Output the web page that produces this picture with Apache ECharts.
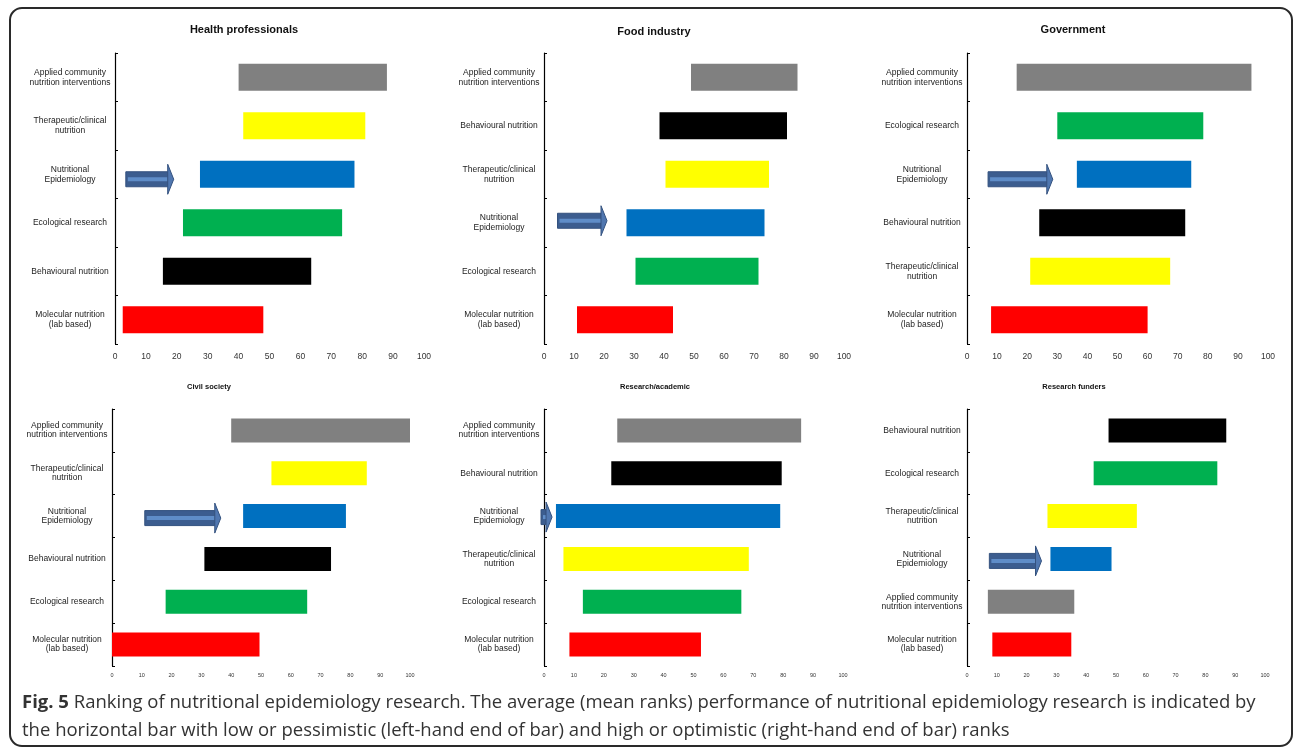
<!DOCTYPE html>
<html>
<head>
<meta charset="utf-8">
<title>Ranking of nutritional epidemiology research</title>
<script src="https://cdn.jsdelivr.net/npm/echarts@6/dist/echarts.min.js"></script>
<style>
  html, body { margin: 0; padding: 0; background: #ffffff; }
  #chart { width: 1295px; height: 748px; }
</style>
</head>
<body>
<div id="chart"></div>
<script>
// ---- data -----------------------------------------------------------------
const APPLIED = 'Applied community\nnutrition interventions';
const THERAP = 'Therapeutic/clinical\nnutrition';
const NUTEPI = 'Nutritional\nEpidemiology';
const ECOL = 'Ecological research';
const BEHAV = 'Behavioural nutrition';
const MOLEC = 'Molecular nutrition\n(lab based)';

const panelTitles = ['Health professionals', 'Food industry', 'Government',
  'Civil society', 'Research/academic', 'Research funders'];

const xTicks = [0, 10, 20, 30, 40, 50, 60, 70, 80, 90, 100];

// rows listed top to bottom; low = pessimistic rank, high = optimistic rank
const healthCats = [APPLIED, THERAP, NUTEPI, ECOL, BEHAV, MOLEC];
const healthLow = [40, 41.5, 27.5, 22, 15.5, 2.5];
const healthHigh = [88, 81, 77.5, 73.5, 63.5, 48];
const healthArrow = [3.5, 19];

const foodCats = [APPLIED, BEHAV, THERAP, NUTEPI, ECOL, MOLEC];
const foodLow = [49, 38.5, 40.5, 27.5, 30.5, 11];
const foodHigh = [84.5, 81, 75, 73.5, 71.5, 43];
const foodArrow = [4.5, 21];

const govCats = [APPLIED, ECOL, NUTEPI, BEHAV, THERAP, MOLEC];
const govLow = [16.5, 30, 36.5, 24, 21, 8];
const govHigh = [94.5, 78.5, 74.5, 72.5, 67.5, 60];
const govArrow = [7, 28.5];

const civilCats = [APPLIED, THERAP, NUTEPI, BEHAV, ECOL, MOLEC];
const civilLow = [40, 53.5, 44, 31, 18, 0];
const civilHigh = [100, 85.5, 78.5, 73.5, 65.5, 49.5];
const civilArrow = [11, 36.5];

const academicCats = [APPLIED, BEHAV, NUTEPI, THERAP, ECOL, MOLEC];
const academicLow = [24.5, 22.5, 4, 6.5, 13, 8.5];
const academicHigh = [86, 79.5, 79, 68.5, 66, 52.5];
const academicArrow = [-1, 2.7];

const fundersCats = [BEHAV, ECOL, THERAP, NUTEPI, APPLIED, MOLEC];
const fundersLow = [47.5, 42.5, 27, 28, 7, 8.5];
const fundersHigh = [87, 84, 57, 48.5, 36, 35];
const fundersArrow = [7.5, 25];

const captionLine1 = 'Ranking of nutritional epidemiology research. The average (mean ranks) performance of nutritional epidemiology research is indicated by';
const captionLine2 = 'the horizontal bar with low or pessimistic (left-hand end of bar) and high or optimistic (right-hand end of bar) ranks';

// ---- styling --------------------------------------------------------------
const colorOf = {};
colorOf[APPLIED] = '#808080';
colorOf[THERAP] = '#FFFF00';
colorOf[NUTEPI] = '#0070C0';
colorOf[ECOL] = '#00B050';
colorOf[BEHAV] = '#000000';
colorOf[MOLEC] = '#FF0000';

const FONT = '"Liberation Sans", Arial, sans-serif';

const panels = [
  { cats: healthCats, low: healthLow, high: healthHigh, arrow: healthArrow,
    grid: { left: 115, top: 53, width: 309, height: 291 }, title: [244, 30], big: true, arrowDy: 5 },
  { cats: foodCats, low: foodLow, high: foodHigh, arrow: foodArrow,
    grid: { left: 544, top: 53, width: 300, height: 291 }, title: [654, 32], big: true, arrowDy: -2 },
  { cats: govCats, low: govLow, high: govHigh, arrow: govArrow,
    grid: { left: 967, top: 53, width: 301, height: 291 }, title: [1073, 30], big: true, arrowDy: 5 },
  { cats: civilCats, low: civilLow, high: civilHigh, arrow: civilArrow,
    grid: { left: 112, top: 409, width: 298, height: 257 }, title: [209, 387], big: false, arrowDy: 2 },
  { cats: academicCats, low: academicLow, high: academicHigh, arrow: academicArrow,
    grid: { left: 544, top: 409, width: 299, height: 257 }, title: [655, 387], big: false, arrowDy: 1 },
  { cats: fundersCats, low: fundersLow, high: fundersHigh, arrow: fundersArrow,
    grid: { left: 967, top: 409, width: 298, height: 257 }, title: [1074, 387], big: false, arrowDy: 2 }
];

// block arrow pointing right, drawn between two x values on one category row
function makeArrowRenderer(dy) {
  return function (params, api) {
    const row = api.value(2);
    const p0 = api.coord([api.value(0), row]);
    const p1 = api.coord([api.value(1), row]);
    const cy = p0[1] + dy;
    const headLen = 6;
    const bodyH = 7.5;
    const headH = 15;
    const xb = p1[0] - headLen;
    return {
      type: 'group',
      children: [
        { type: 'rect', shape: { x: p0[0], y: cy - bodyH, width: xb - p0[0], height: bodyH * 2 },
          style: { fill: '#3C5D8F', stroke: '#34527F', lineWidth: 1 } },
        { type: 'rect', shape: { x: p0[0] + 2, y: cy - 2, width: xb - p0[0], height: 4 },
          style: { fill: '#5F8DC8' } },
        { type: 'polygon', shape: { points: [[xb, cy - headH], [p1[0], cy], [xb, cy + headH]] },
          style: { fill: '#5077B0', stroke: '#34527F', lineWidth: 1 } }
      ]
    };
  };
}

const grids = [], xAxes = [], yAxes = [], series = [], graphics = [];

panels.forEach(function (p, i) {
  grids.push(Object.assign({ containLabel: false }, p.grid));
  xAxes.push({
    type: 'value', gridIndex: i, min: xTicks[0], max: xTicks[xTicks.length - 1], interval: 10,
    axisLine: { show: false }, axisTick: { show: false }, splitLine: { show: false },
    axisLabel: { color: '#333', fontFamily: FONT, fontSize: p.big ? 8.5 : 5.5, margin: p.big ? 8 : 6 }
  });
  yAxes.push({
    type: 'category', gridIndex: i, data: p.cats, inverse: true,
    axisLine: { show: true, lineStyle: { color: '#000', width: 1.2 } },
    axisTick: { show: true, inside: true, length: 3, lineStyle: { color: '#000' } },
    splitLine: { show: false },
    axisLabel: { color: '#222', fontFamily: FONT, fontSize: 8.5, lineHeight: p.big ? 10 : 9,
      align: 'center', margin: 45 }
  });
  const bw = p.big ? 27 : 24;
  series.push({
    type: 'bar', xAxisIndex: i, yAxisIndex: i, stack: 'rank' + i, barWidth: bw, silent: true,
    itemStyle: { color: 'rgba(0,0,0,0)' }, data: p.low
  });
  series.push({
    type: 'bar', xAxisIndex: i, yAxisIndex: i, stack: 'rank' + i, barWidth: bw, silent: true,
    data: p.high.map(function (h, j) {
      return { value: h - p.low[j], itemStyle: { color: colorOf[p.cats[j]] } };
    })
  });
  series.push({
    type: 'custom', xAxisIndex: i, yAxisIndex: i, silent: true, clip: false, z: 3,
    renderItem: makeArrowRenderer(p.arrowDy),
    encode: { x: [0, 1], y: 2 },
    data: [[p.arrow[0], p.arrow[1], p.cats.indexOf(NUTEPI)]]
  });
  graphics.push({
    type: 'text', x: p.title[0], y: p.title[1],
    style: { text: panelTitles[i], fill: '#111', align: 'center', verticalAlign: 'middle',
      font: 'bold ' + (p.big ? 11 : 7.5) + 'px ' + FONT }
  });
});

// figure frame and caption
graphics.push({
  type: 'rect', shape: { x: 10, y: 8, width: 1282, height: 738, r: 12 },
  style: { fill: 'none', stroke: '#2a2a2a', lineWidth: 2 }, z: -1
});
const CAP_FONT = '"Open Sans", "Noto Sans", sans-serif';
const CAP_SIZE = 18.5;
graphics.push({
  type: 'text', x: 22, y: 703,
  style: {
    text: '{b|Fig. 5} ' + captionLine1, fill: '#333', verticalAlign: 'middle',
    font: CAP_SIZE + 'px ' + CAP_FONT,
    rich: { b: { fontWeight: 'bold', fontSize: CAP_SIZE, fontFamily: CAP_FONT, fill: '#333' } }
  }
});
graphics.push({
  type: 'text', x: 22, y: 731,
  style: { text: captionLine2, fill: '#333', verticalAlign: 'middle', font: CAP_SIZE + 'px ' + CAP_FONT }
});

const chart = echarts.init(document.getElementById('chart'), null, { renderer: 'canvas' });
chart.setOption({
  animation: false,
  backgroundColor: '#ffffff',
  grid: grids,
  xAxis: xAxes,
  yAxis: yAxes,
  series: series,
  graphic: graphics
});
</script>
</body>
</html>
